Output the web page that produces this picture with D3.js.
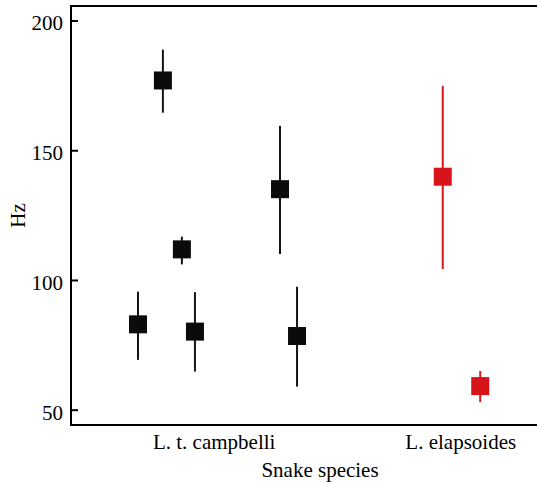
<!DOCTYPE html>
<html>
<head>
<meta charset="utf-8">
<script src="https://cdn.jsdelivr.net/npm/d3@7"></script>
<style>
  html, body { margin: 0; padding: 0; background: #fff; }
  svg { display: block; }
  text { font-family: "Liberation Serif", "Times New Roman", serif; fill: #000; }
</style>
</head>
<body>
<svg id="chart" width="537" height="483"></svg>
<script>
// ---- data ----
const species = ["L. t. campbelli", "L. elapsoides"];
const speciesPos = [1, 2];
const pointSpecies = ["L. t. campbelli", "L. t. campbelli", "L. t. campbelli", "L. t. campbelli", "L. t. campbelli", "L. t. campbelli", "L. elapsoides", "L. elapsoides"];
const pointX = [0.693, 0.794, 0.871, 0.924, 1.269, 1.338, 1.929, 2.081];
const meanHz = [82.9, 176.9, 111.8, 80.1, 135.0, 78.4, 139.8, 59.1];
const lowHz = [69.2, 164.5, 106.0, 64.7, 110.0, 58.9, 104.2, 52.9];
const highHz = [95.5, 188.8, 116.7, 95.3, 159.4, 97.4, 174.8, 64.9];
const yTicks = [50, 100, 150, 200];
const speciesColor = ["#0b0b0b", "#d71419"];
const lineColor = ["#151515", "#d8161c"];

// ---- layout ----
const svg = d3.select("#chart");
const mLeft = 71, mRight = 569, mTop = 6, mBottom = 425;

const x = d3.scaleLinear().domain([0.4213, 2.441]).range([mLeft, mRight]);
const y = d3.scaleLinear().domain([44.1, 205.6]).range([mBottom, mTop]);

const colorOf = d3.scaleOrdinal().domain(species).range(speciesColor);
const lineOf = d3.scaleOrdinal().domain(species).range(lineColor);

const pts = pointX.map((px, i) => ({
  x: px, sp: pointSpecies[i], m: meanHz[i], lo: lowHz[i], hi: highHz[i]
}));

// error bars
svg.append("g").selectAll("line").data(pts).join("line")
  .attr("x1", d => x(d.x)).attr("x2", d => x(d.x))
  .attr("y1", d => y(d.lo)).attr("y2", d => y(d.hi))
  .attr("stroke", d => lineOf(d.sp)).attr("stroke-width", 2);

// squares
const s = 18;
svg.append("g").selectAll("rect").data(pts).join("rect")
  .attr("x", d => x(d.x) - s / 2).attr("y", d => y(d.m) - s / 2)
  .attr("width", s).attr("height", s)
  .attr("fill", d => colorOf(d.sp));

// frame (top line)
svg.append("line").attr("x1", mLeft).attr("x2", 537).attr("y1", mTop).attr("y2", mTop)
  .attr("stroke", "#000").attr("stroke-width", 2);

// y axis
const yAxis = d3.axisRight(y).tickValues(yTicks).tickSize(7).tickFormat(d3.format("d"));
const gy = svg.append("g").attr("transform", `translate(${mLeft},0)`).call(yAxis);
gy.select(".domain").remove();
gy.selectAll(".tick line").attr("stroke", "#000").attr("stroke-width", 2);
gy.selectAll(".tick text").attr("x", -8).attr("dy", "0.45em")
  .attr("text-anchor", "end").style("font-size", "21px")
  .style("font-family", "'Liberation Serif', serif").attr("fill", "#000");
svg.append("line").attr("x1", mLeft).attr("x2", mLeft).attr("y1", mTop - 1).attr("y2", mBottom + 1)
  .attr("stroke", "#000").attr("stroke-width", 2);

// x axis
const xAxis = d3.axisBottom(x).tickValues(speciesPos).tickSize(0)
  .tickFormat((d, i) => species[i]);
const gx = svg.append("g").attr("transform", `translate(0,${mBottom})`).call(xAxis);
gx.select(".domain").remove();
gx.selectAll(".tick text").attr("y", 0).attr("dy", "24px")
  .style("font-size", "21px").style("font-family", "'Liberation Serif', serif").attr("fill", "#000");
svg.append("line").attr("x1", mLeft).attr("x2", 537).attr("y1", mBottom).attr("y2", mBottom)
  .attr("stroke", "#000").attr("stroke-width", 2);

// axis titles
svg.append("text").attr("x", (mLeft + mRight) / 2).attr("y", 477)
  .attr("text-anchor", "middle").style("font-size", "21px").text("Snake species");
svg.append("text")
  .attr("transform", `translate(25,${(mTop + mBottom) / 2}) rotate(-90)`)
  .attr("text-anchor", "middle").style("font-size", "21px").text("Hz");
</script>
</body>
</html>
